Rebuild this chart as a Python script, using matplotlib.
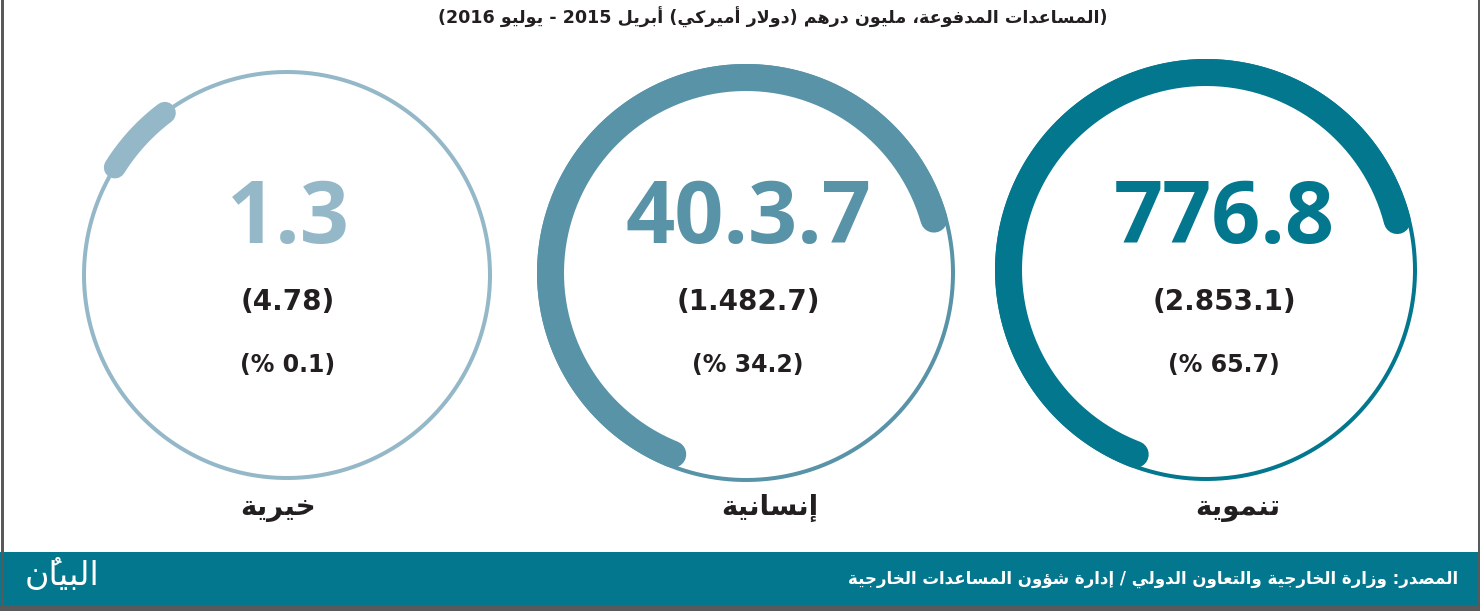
import re
import numpy as np
import matplotlib
matplotlib.use("Agg")
import matplotlib.pyplot as plt
from matplotlib.patches import Rectangle

# --- data --------------------------------------------------------------
categories = ["تنموية", "إنسانية", "خيرية"]
values_usd = ["776.8", "40.3.7", "1.3"]
values_aed = ["(2.853.1)", "(1.482.7)", "(4.78)"]
shares = ["(% 65.7)", "(% 34.2)", "(% 0.1)"]
# thick arc of each ring, degrees (counter-clockwise from 3 o'clock)
arc_start = [14.5, 16.0, 127.0]
arc_end = [249.0, 248.0, 148.0]

title = "(المساعدات المدفوعة، مليون درهم (دولار أميركي) أبريل 2015 - يوليو 2016)"
source = "المصدر: وزارة الخارجية والتعاون الدولي / إدارة شؤون المساعدات الخارجية"
logo = "البيانُ"

colors = ["#02778e", "#5893a8", "#94b8c8"]
band_color = "#02778e"

# --- tiny arabic shaper (matplotlib does no text shaping) ----------------
FORMS = {
    "ا": (0xFE8D, 2), "أ": (0xFE83, 2), "إ": (0xFE87, 2), "ؤ": (0xFE85, 2),
    "ب": (0xFE8F, 4), "ة": (0xFE93, 2), "ت": (0xFE95, 4), "ج": (0xFE9D, 4),
    "خ": (0xFEA5, 4), "د": (0xFEA9, 2), "ر": (0xFEAD, 2), "ز": (0xFEAF, 2),
    "س": (0xFEB1, 4), "ش": (0xFEB5, 4), "ص": (0xFEB9, 4), "ع": (0xFEC9, 4),
    "ف": (0xFED1, 4), "ك": (0xFED9, 4), "ل": (0xFEDD, 4), "م": (0xFEE1, 4),
    "ن": (0xFEE5, 4), "ه": (0xFEE9, 4), "و": (0xFEED, 2), "ي": (0xFEF1, 4),
}
LAM_ALEF = {"ا": 0xFEFB, "أ": 0xFEF7, "إ": 0xFEF9}
MARKS = "\u064b\u064c\u064d\u064e\u064f\u0650\u0651\u0652"


def shape(s):
    out = []
    i = 0
    n = len(s)

    def dual(c):
        return c in FORMS and FORMS[c][1] == 4

    def prev_letter(j):
        j -= 1
        while j >= 0 and s[j] in MARKS:
            j -= 1
        return s[j] if j >= 0 else ""

    def next_letter(j):
        j += 1
        while j < n and s[j] in MARKS:
            j += 1
        return s[j] if j < n else ""

    while i < n:
        c = s[i]
        if c not in FORMS:
            out.append(c)
            i += 1
            continue
        jp = dual(prev_letter(i))
        nxt = next_letter(i)
        if c == "ل" and nxt in LAM_ALEF:
            out.append(chr(LAM_ALEF[nxt] + (1 if jp else 0)))
            i = s.index(nxt, i + 1) + 1
            continue
        base, k = FORMS[c]
        jn = k == 4 and nxt in FORMS
        if k == 2:
            code = base + 1 if jp else base
        elif jp and jn:
            code = base + 3
        elif jp:
            code = base + 1
        elif jn:
            code = base + 2
        else:
            code = base
        out.append(chr(code))
        i += 1
    return "".join(out)


def ar(s):
    # shape, then lay out right-to-left keeping digit runs in order
    tokens = re.findall(r"[0-9][0-9.]*|[^0-9][" + MARKS + "]*", shape(s))
    tokens.reverse()
    mirror = {"(": ")", ")": "("}
    return "".join(mirror.get(t, t) for t in tokens)


# --- figure --------------------------------------------------------------
W, H = 1480, 611
fig = plt.figure(figsize=(W / 100, H / 100), dpi=100)
ax = fig.add_axes([0, 0, 1, 1])
ax.set_xlim(0, W)
ax.set_ylim(H, 0)
ax.axis("off")

PX = 0.72  # points per pixel at dpi 100

centers = [(1206, 270), (746, 273), (287, 275)]
radii = [209, 207, 203]
text_x = [1224, 748, 288]
thick = 27

for i in range(3):
    cx, cy = centers[i]
    r = radii[i]
    col = colors[i]
    t = np.linspace(0, 2 * np.pi, 400)
    ax.plot(cx + r * np.cos(t), cy - r * np.sin(t), color=col, lw=4 * PX)
    # thick arc: rings 0/1 sit inside the thin line, ring 2 is centred on it
    rr = r - thick / 2 + 2 if i < 2 else r
    lw = thick if i < 2 else 22
    a = np.radians(np.linspace(arc_start[i], arc_end[i], 200))
    ax.plot(cx + rr * np.cos(a), cy - rr * np.sin(a), color=col,
            lw=lw * PX, solid_capstyle="round")

    ax.text(text_x[i], 220, values_usd[i], color=col, fontsize=62,
            family="Open Sans", fontweight="bold", ha="center", va="center")
    ax.text(text_x[i], 302, values_aed[i], color="#231f20", fontsize=20,
            family="DejaVu Sans", fontweight="bold", ha="center", va="center")
    ax.text(text_x[i], 365, shares[i], color="#231f20", fontsize=17,
            family="DejaVu Sans", fontweight="bold", ha="center", va="center")

label_x = [1238, 770, 278]
for i in range(3):
    ax.text(label_x[i], 508, ar(categories[i]), color="#231f20", fontsize=20,
            family="DejaVu Sans", fontweight="bold", ha="center", va="center")

ax.text(773, 17, ar(title), color="#231f20", fontsize=12.6,
        family="DejaVu Sans", fontweight="bold", ha="center", va="center")

# bottom band and frame
ax.add_patch(Rectangle((0, 552), W, 53, color=band_color, lw=0))
ax.add_patch(Rectangle((0, 605), W, 6, color="#58595b", lw=0))
ax.plot([1.5, 1.5], [0, H], color="#58595b", lw=3 * PX)
ax.plot([W - 1.5, W - 1.5], [0, H], color="#58595b", lw=3 * PX)

ax.text(1458, 579, ar(source), color="white", fontsize=12,
        family="DejaVu Sans", fontweight="bold", ha="right", va="center")
ax.text(62, 576, ar(logo), color="white", fontsize=24,
        family="DejaVu Sans", ha="center", va="center")

fig.savefig("out.png", dpi=100)
